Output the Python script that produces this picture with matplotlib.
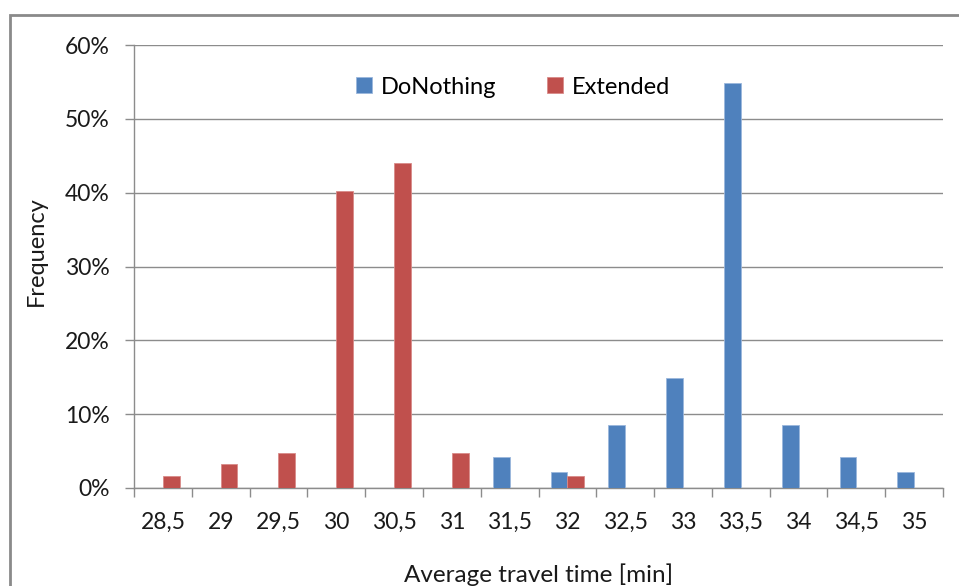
import numpy as np
import matplotlib.pyplot as plt
from matplotlib.patches import Rectangle
from matplotlib.ticker import PercentFormatter, FixedLocator

categories = ["28,5", "29", "29,5", "30", "30,5", "31", "31,5",
              "32", "32,5", "33", "33,5", "34", "34,5", "35"]
do_nothing = [0, 0, 0, 0, 0, 0, 4.2, 2.1, 8.5, 14.9, 54.9, 8.5, 4.2, 2.1]
extended = [1.6, 3.2, 4.8, 40.2, 44.0, 4.8, 0, 1.6, 0, 0, 0, 0, 0, 0]

BLUE = "#4F81BD"
RED = "#C0504D"
GRID = "#8c8c8c"
plt.rcParams["font.family"] = ["Lato", "DejaVu Sans"]

fig = plt.figure(figsize=(9.59, 5.86), dpi=100)
ax = fig.add_axes([134 / 959, 1 - 488 / 586, (943 - 134) / 959, (488 - 45) / 586])

# outer chart frame (Excel style, cropped at right/bottom)
fig.patches.append(Rectangle((10 / 959, -0.1), 1.2, 1 - 15 / 586 + 0.1,
                             transform=fig.transFigure, fill=False,
                             edgecolor="#8a8a8a", linewidth=2.0, zorder=0))

x = np.arange(len(categories))
w = 0.29
ax.bar(x - w / 2, do_nothing, w, color=BLUE, edgecolor="#9bb7dc",
       linewidth=0.6, label="DoNothing", zorder=3)
ax.bar(x + w / 2, extended, w, color=RED, edgecolor="#d98b89",
       linewidth=0.6, label="Extended", zorder=3)

ax.set_xlim(-0.5, len(categories) - 0.5)
ax.set_ylim(0, 60)
ax.set_yticks(np.arange(0, 61, 10))
ax.yaxis.set_major_formatter(PercentFormatter(decimals=0))
ax.grid(True, axis="y", color=GRID, linewidth=1.0, zorder=0)

ax.set_xticks(x)
ax.set_xticklabels(categories)
ax.xaxis.set_minor_locator(FixedLocator(np.arange(-0.5, len(categories), 1)))
ax.tick_params(axis="x", which="major", length=0, pad=17, labelsize=16.5,
               colors="#1a1a1a")
ax.tick_params(axis="x", which="minor", length=6.5, width=1.0, color=GRID)
ax.tick_params(axis="y", length=6.5, width=1.0, color=GRID, pad=11,
               labelsize=16.5, labelcolor="#1a1a1a")

for s in ["top", "right"]:
    ax.spines[s].set_visible(False)
ax.spines["left"].set_color(GRID)
ax.spines["bottom"].set_color(GRID)
ax.spines["left"].set_linewidth(1.0)
ax.spines["bottom"].set_linewidth(1.0)

ax.set_ylabel("Frequency", fontsize=17, color="#1a1a1a")
ax.yaxis.set_label_coords(-0.108, 0.535)
ax.set_xlabel("Average travel time [min]", fontsize=17.5, color="#1a1a1a",
              labelpad=22)

ax.legend(loc="center", bbox_to_anchor=(0.469, 0.905), ncol=2, frameon=False,
          fontsize=17, handlelength=0.65, handleheight=0.65,
          handletextpad=0.4, columnspacing=2.15)

fig.savefig("out.png", dpi=100, facecolor="white")
